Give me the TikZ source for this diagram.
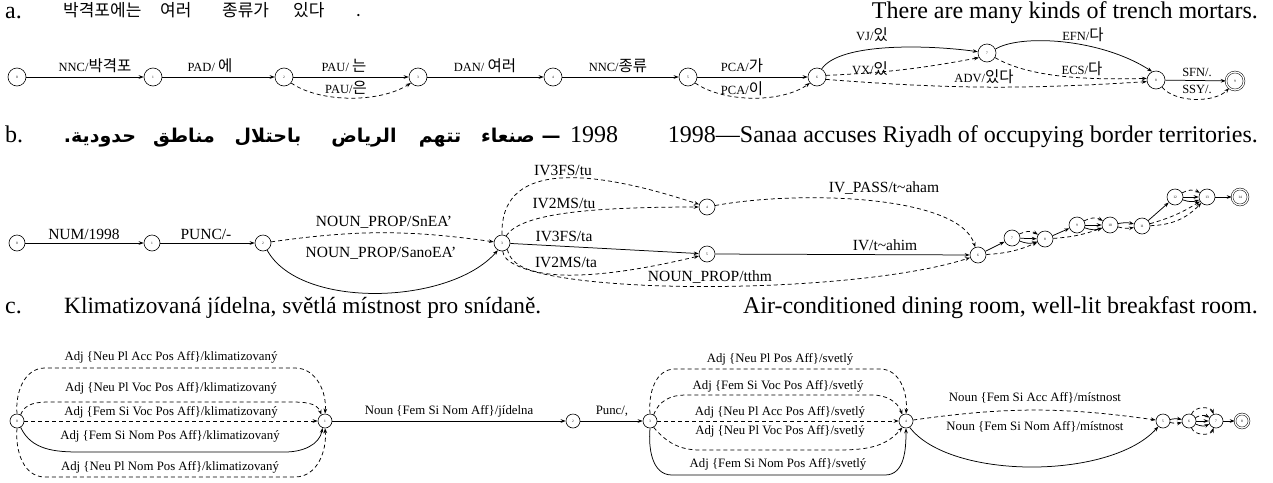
\documentclass[tikz,border=0pt]{standalone}
\usepackage{fontspec}
\setmainfont{Liberation Serif}
\newfontfamily\krfont{Noto Sans CJK KR}
\newfontfamily\krwide{Noto Sans CJK KR}
\newfontfamily\arabicfont[Script=Arabic]{DejaVu Sans Bold}
\TeXXeTstate=1
\usetikzlibrary{arrows.meta}
\newcommand\KR[1]{{\krfont\fontsize{15.5}{16}\selectfont #1}}
\tikzset{
  st/.style={circle,draw,line width=0.6pt,minimum size=18pt,inner sep=0pt,font=\fontsize{3.5}{4}\selectfont},
  stb/.style={st,minimum size=16pt},
  stc/.style={st,minimum size=14pt},
  fin/.style={double,double distance=1.3pt,line width=0.5pt},
  ar/.style={-{Stealth[length=5pt,width=3.6pt]},line width=0.75pt},
  dsh/.style={ar,dash pattern=on 4pt off 3pt},
  la/.style={inner sep=1pt,font=\fontsize{12.5}{13}\selectfont},
  lb/.style={inner sep=1pt,font=\fontsize{15.5}{16}\selectfont},
  lc/.style={inner sep=1pt,font=\fontsize{12.8}{13}\selectfont},
  hd/.style={inner sep=0pt,font=\fontsize{24}{25}\selectfont,anchor=base west},
  krh/.style={inner sep=0pt,font=\krwide\fontsize{17}{18}\selectfont,anchor=base west},
  arh/.style={inner sep=0pt,font=\arabicfont\fontsize{19}{20}\selectfont,anchor=base},
}
\begin{document}
\begin{tikzpicture}[x=1pt,y=-1pt]
\useasboundingbox (0,0) rectangle (1273,482);
% ---------- a ----------
\node[hd] (ha) at (5,18) {a.};
\node[krh] (hk1) at (63,16) {박격포에는};
\node[krh] (hk2) at (160,16) {여러};
\node[krh] (hk3) at (222,16) {종류가};
\node[krh] (hk4) at (293,16) {있다};
\node[krh] (hk5) at (356,16) {.};
\node[hd,anchor=base east] (hae) at (1258,18) {There are many kinds of trench mortars.};

\node[st] (a0) at (17,77) {0};
\node[st] (a1) at (153,77) {1};
\node[st] (a2) at (284,77) {2};
\node[st] (a3) at (418,77) {3};
\node[st] (a4) at (553,77) {4};
\node[st] (a5) at (688,77) {5};
\node[st] (a6) at (817,77) {6};
\node[st] (a7) at (987,53) {7};
\node[st] (a8) at (1156,80) {8};
\node[st,fin] (a9) at (1235,81) {9};

\draw[ar] (a0) -- (a1);
\draw[ar] (a1) -- (a2);
\draw[ar] (a2) -- (a3);
\draw[dsh] (a2.-40) .. controls (320,103) and (380,103) .. (a3.-140);
\draw[ar] (a3) -- (a4);
\draw[ar] (a4) -- (a5);
\draw[ar] (a5) -- (a6);
\draw[dsh] (a5.-40) .. controls (724,103) and (782,103) .. (a6.-140);
\draw[ar] (a6.60) .. controls (840,42) and (930,45) .. (a7);
\draw[dsh] (a6.10) to[bend right=4] (a7.-150);
\draw[dsh] (a6.-15) to[bend right=4] (a8.-170);
\draw[ar] (a7.25) .. controls (1020,34) and (1100,38) .. (a8.115);
\draw[dsh] (a7.-30) .. controls (1030,78) and (1090,80) .. (a8.170);
\draw[ar] (a8) -- (a9);
\draw[dsh] (a8.-50) .. controls (1175,103) and (1215,103) .. (a9.-130);

\node[la,anchor=south] (la01) at (95,74) {NNC/\KR{박격포}};
\node[la,anchor=south] (la12) at (210,74) {PAD/ \KR{에}};
\node[la,anchor=south] (la23a) at (344,74) {PAU/ \KR{는}};
\node[la,anchor=north] (la23b) at (346,80) {PAU/\KR{은}};
\node[la,anchor=south] (la34) at (485,74) {DAN/ \KR{여러}};
\node[la,anchor=south] (la45) at (618,74) {NNC/\KR{종류}};
\node[la,anchor=south] (la56a) at (742,74) {PCA/\KR{가}};
\node[la,anchor=north] (la56b) at (742,80) {PCA/\KR{이}};
\node[la] (la67a) at (872,35) {VJ/\KR{있}};
\node[la] (la67b) at (870,69) {VX/\KR{있}};
\node[la] (la68) at (984,77) {ADV/\KR{있다}};
\node[la] (la78a) at (1083,35) {EFN/\KR{다}};
\node[la] (la78b) at (1082,69) {ECS/\KR{다}};
\node[la] (la89a) at (1197,72) {SFN/.};
\node[la] (la89b) at (1197,89) {SSY/.};

% ---------- b ----------
\node[hd] (hb) at (5,142) {b.};
\node[arh] (w1) at (100,142) {\beginR حدودية.\endR};
\node[arh] (w2) at (184,142) {\beginR مناطق\endR};
\node[arh] (w3) at (268,142) {\beginR باحتلال\endR};
\node[arh] (w4) at (364,142) {\beginR الرياض\endR};
\node[arh] (w5) at (440,142) {\beginR تتهم\endR};
\node[arh] (w6) at (508,142) {\beginR صنعاء\endR};
\node[arh] (w7) at (551,142) {—};
\node[hd] (w8) at (570,142) {1998};
\node[hd,anchor=base east] (hbe) at (1258,142) {1998—Sanaa accuses Riyadh of occupying border territories.};

\node[stb] (b0) at (17,243) {0};
\node[stb] (b1) at (152,243) {1};
\node[stb] (b2) at (263,243) {2};
\node[stb] (b3) at (502,243) {3};
\node[stb] (b4) at (707,207) {4};
\node[stb] (b5) at (707,254) {5};
\node[stb] (b6) at (978,255) {6};
\node[stb] (b7) at (1012,238) {7};
\node[stb] (b8) at (1045,239) {8};
\node[stb] (b9) at (1077,225) {9};
\node[stb] (b10) at (1110,225) {10};
\node[stb] (b11) at (1142,226) {11};
\node[stb] (b12) at (1175,197) {12};
\node[stb] (b13) at (1207,197) {13};
\node[stb,fin] (b14) at (1240,197) {14};

\draw[ar] (b0) -- (b1);
\draw[ar] (b1) -- (b2);
\draw[dsh] (b2) to[bend left=8] (b3);
\draw[ar] (b2.-60) .. controls (300,310) and (450,305) .. (b3.-120);
\draw[dsh] (b3.north) .. controls (500,165) and (580,165) .. (b4);
\draw[dsh] (b3.60) .. controls (520,215) and (580,207) .. (b4);
\draw[ar] (b3) -- (b5);
\draw[dsh] (b3.-50) .. controls (515,285) and (600,280) .. (b5);
\draw[dsh] (b3.-85) .. controls (505,297) and (850,297) .. (b6);
\draw[dsh] (b4) .. controls (800,190) and (960,195) .. (b6.110);
\draw[ar] (b5) -- (b6);
\draw[ar] (b6) -- (b7);
\draw[dsh] (b6) to[bend right=10] (b8);
\draw[dsh] (b7) to[bend left=30] (b8);
\draw[ar] (b7) -- (b8);
\draw[ar] (b7) to[bend right=20] (b8);
\draw[ar] (b8) -- (b9);
\draw[dsh] (b8) to[bend right=8] (b10);
\draw[dsh] (b9) to[bend left=30] (b10);
\draw[ar] (b9) -- (b10);
\draw[ar] (b9) to[bend right=20] (b10);
\draw[ar] (b10) to[bend left=12] (b11);
\draw[dsh] (b10) to[bend right=12] (b11);
\draw[ar] (b11) -- (b12);
\draw[dsh] (b11) to[bend right=8] (b13);
\draw[dsh] (b11) to[bend right=22] (b13);
\draw[dsh] (b12) to[bend left=30] (b13);
\draw[ar] (b12) -- (b13);
\draw[ar] (b12) to[bend right=20] (b13);
\draw[ar] (b13) -- (b14);

\node[lb,anchor=south] (lb01) at (84,241) {NUM/1998};
\node[lb,anchor=south] (lb12) at (206,241) {PUNC/-};
\node[lb] (lb23a) at (384,222) {NOUN\_PROP/SnEA'};
\node[lb] (lb23b) at (381,253) {NOUN\_PROP/SanoEA'};
\node[lb] (lb34a) at (563,170) {IV3FS/tu};
\node[lb] (lb34b) at (564,203) {IV2MS/tu};
\node[lb] (lb35a) at (564,236) {IV3FS/ta};
\node[lb] (lb35b) at (566,262) {IV2MS/ta};
\node[lb] (lb46) at (884,188) {IV\_PASS/t\textasciitilde aham};
\node[lb] (lb56) at (885,245) {IV/t\textasciitilde ahim};
\node[lb] (lb36) at (710,277) {NOUN\_PROP/tthm};

% ---------- c ----------
\node[hd] (hc) at (5,313) {c.};
\node[hd,font=\fontsize{23.3}{24}\selectfont] (hcz) at (64,313) {Klimatizovaná jídelna, světlá místnost pro snídaně.};
\node[hd,anchor=base east] (hce) at (1258,313) {Air-conditioned dining room, well-lit breakfast room.};

\node[stc] (c0) at (17,421) {0};
\node[stc] (c1) at (325,421) {1};
\node[stc] (c2) at (573,421) {2};
\node[stc] (c3) at (650,421) {3};
\node[stc] (c4) at (906,421) {4};
\node[stc] (c5) at (1163,421) {5};
\node[stc] (c6) at (1189,421) {6};
\node[stc] (c7) at (1216,421) {7};
\node[stc,fin] (c8) at (1242,421) {8};

\draw[dsh] (c0.north) to[out=95,in=180] (45,368) -- (295,368) to[out=0,in=85] (c1.north);
\draw[dsh] (c0.60) to[out=70,in=180] (50,402) -- (290,402) to[out=0,in=110] (c1.120);
\draw[dsh] (c0) -- (c1);
\draw[ar] (c0.-60) to[out=-65,in=180] (80,452) -- (285,452) to[out=0,in=-100] (c1.-110);
\draw[dsh] (c0.south) to[out=-95,in=180] (45,477) -- (295,477) to[out=0,in=-85] (c1.south);
\draw[ar] (c1) -- (c2);
\draw[ar] (c2) -- (c3);
\draw[dsh] (c3.north) to[out=95,in=180] (675,369) -- (880,369) to[out=0,in=85] (c4.north);
\draw[dsh] (c3.60) to[out=70,in=180] (685,395) -- (872,395) to[out=0,in=110] (c4.120);
\draw[dsh] (c3) -- (c4);
\draw[dsh] (c3.-60) to[out=-50,in=180] (700,450) -- (830,450) to[out=0,in=-130] (c4.-120);
\draw[ar] (c3.south) to[out=-95,in=180] (672,475) -- (885,475) to[out=0,in=-90] (c4.south);
\draw[dsh] (c4) to[bend left=8] (c5);
\draw[ar] (c4.-60) .. controls (950,480) and (1110,480) .. (c5.-130);
\draw[ar] (c5) to[bend left=12] (c6);
\draw[dsh] (c5) to[bend right=12] (c6);
\draw[dsh] (c6) to[bend left=70] (c7);
\draw[dsh] (c6) to[bend left=28] (c7);
\draw[ar] (c6) -- (c7);
\draw[ar] (c6) to[bend right=25] (c7);
\draw[dsh] (c6) to[bend right=70] (c7);
\draw[ar] (c7) -- (c8);

\node[lc] (lc01a) at (171,357) {Adj \{Neu Pl Acc Pos Aff\}/klimatizovaný};
\node[lc] (lc01b) at (171,388) {Adj \{Neu Pl Voc Pos Aff\}/klimatizovaný};
\node[lc] (lc01c) at (171,412) {Adj \{Fem Si Voc Pos Aff\}/klimatizovaný};
\node[lc] (lc01d) at (170,436) {Adj \{Fem Si Nom Pos Aff\}/klimatizovaný};
\node[lc] (lc01e) at (170,467) {Adj \{Neu Pl Nom Pos Aff\}/klimatizovaný};
\node[lc,anchor=south] (lc12) at (449,418) {Noun \{Fem Si Nom Aff\}/jídelna};
\node[lc,anchor=south] (lc23) at (612,418) {Punc/,};
\node[lc] (lc34a) at (780,359) {Adj \{Neu Pl Pos Aff\}/svetlý};
\node[lc] (lc34b) at (778,386) {Adj \{Fem Si Voc Pos Aff\}/svetlý};
\node[lc] (lc34c) at (780,412) {Adj \{Neu Pl Acc Pos Aff\}/svetlý};
\node[lc] (lc34d) at (780,431) {Adj \{Neu Pl Voc Pos Aff\}/svetlý};
\node[lc] (lc34e) at (778,464) {Adj \{Fem Si Nom Pos Aff\}/svetlý};
\node[lc] (lc45a) at (1035,398) {Noun \{Fem Si Acc Aff\}/místnost};
\node[lc] (lc45b) at (1035,427) {Noun \{Fem Si Nom Aff\}/místnost};
\end{tikzpicture}
\end{document}
